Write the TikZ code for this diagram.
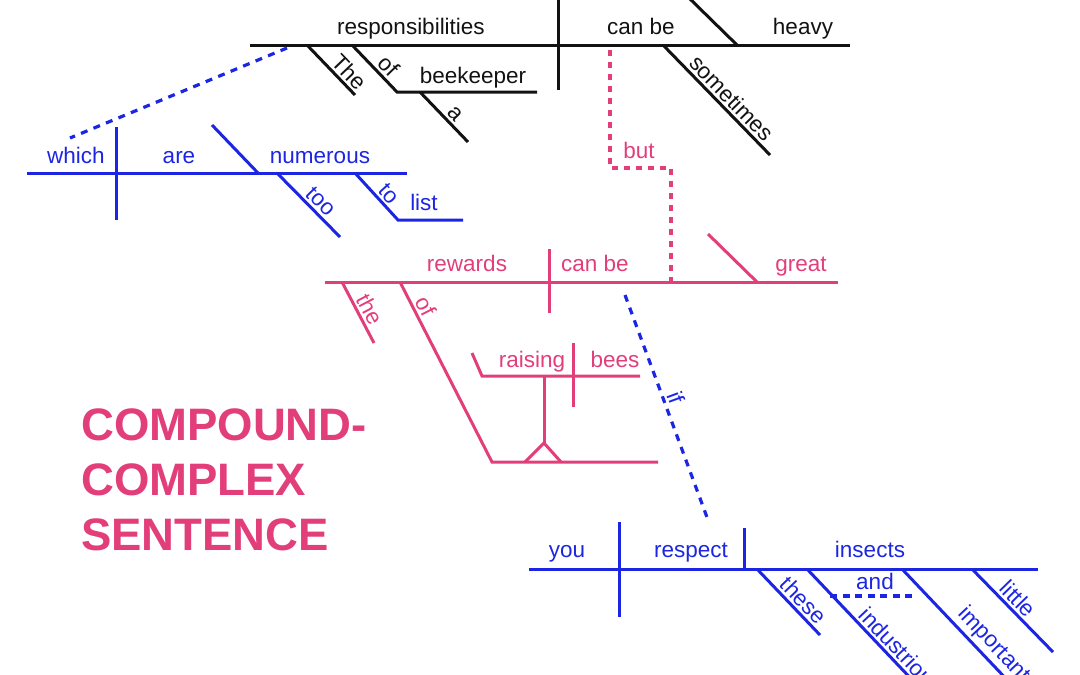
\documentclass[tikz,border=0pt]{standalone}
\usepackage{fontspec}
\setmainfont{Liberation Sans}
\definecolor{pk}{RGB}{226,62,122}
\definecolor{bl}{RGB}{28,38,226}
\definecolor{bk}{RGB}{18,18,18}
\begin{document}
\begin{tikzpicture}[x=1pt,y=-1pt,
  ln/.style={line width=3pt},
  blk/.style={ln,draw=bk},
  pnk/.style={ln,draw=pk},
  blu/.style={ln,draw=bl},
  dsh/.style={line width=3.2pt,dash pattern=on 7pt off 6.5pt},
  wd/.style={font=\fontsize{22.5}{27}\selectfont,inner sep=0pt,anchor=base},
  sl/.style={font=\fontsize{22.5}{27}\selectfont,inner sep=2.5pt,sloped,above},
  ttl/.style={font=\fontsize{45.5}{54}\selectfont\bfseries,text=pk,inner sep=0pt,anchor=base west}
]
\useasboundingbox (0,0) rectangle (1080,675);
\clip (0,0) rectangle (1080,675);

% ---------- black clause ----------
\coordinate (b0) at (250,45);  \coordinate (b1) at (850,45);
\coordinate (bd1) at (558,-5); \coordinate (bd2) at (558,90);
\coordinate (bc1) at (686,-5); \coordinate (bc2) at (737,45);
\coordinate (bs1) at (663,45); \coordinate (bs2) at (770,155);
\coordinate (bt1) at (307,45); \coordinate (bt2) at (355,95);
\coordinate (bo1) at (352,45); \coordinate (bo2) at (397,92); \coordinate (bo3) at (537,92);
\coordinate (ba1) at (420,92); \coordinate (ba2) at (468,142);

\draw[blk] (b0) -- (b1);
\draw[blk] (bd1) -- (bd2);
\draw[blk] (bc1) -- (bc2);
\draw[blk] (bs1) -- node[sl,text=bk,pos=.56] (tsometimes) {sometimes} (bs2);
\draw[blk] (bt1) -- node[sl,text=bk,pos=.70] (tThe) {The} (bt2);
\draw[blk] (bo1) -- node[sl,text=bk,pos=.62] (tofa) {of} (bo2) -- (bo3);
\draw[blk] (ba1) -- node[sl,text=bk,pos=.57] (ta) {a} (ba2);

\node[wd,text=bk] (tresp) at (411,34) {responsibilities};
\node[wd,text=bk] (tcanbe1) at (641,34) {can be};
\node[wd,text=bk] (theavy) at (803,34) {heavy};
\node[wd,text=bk] (tbeekeeper) at (473,83) {beekeeper};

% ---------- blue relative clause ----------
\coordinate (w0) at (27,173);   \coordinate (w1) at (407,173);
\coordinate (wd1) at (116,127); \coordinate (wd2) at (116,220);
\coordinate (wc1) at (212,125); \coordinate (wc2) at (258,173);
\coordinate (wt1) at (277,173); \coordinate (wt2) at (340,237);
\coordinate (wl1) at (355,173); \coordinate (wl2) at (398,220); \coordinate (wl3) at (463,220);
\coordinate (rel1) at (287,48); \coordinate (rel2) at (70,138);

\draw[blu] (w0) -- (w1);
\draw[blu] (wd1) -- (wd2);
\draw[blu] (wc1) -- (wc2);
\draw[blu] (wt1) -- node[sl,text=bl,pos=.57] (ttoo) {too} (wt2);
\draw[blu] (wl1) -- node[sl,text=bl,pos=.60] (tto) {to} (wl2) -- (wl3);
\draw[dsh,draw=bl] (rel1) -- (rel2);

\node[wd,text=bl] (twhich) at (76,163) {which};
\node[wd,text=bl] (tare) at (179,163) {are};
\node[wd,text=bl] (tnumerous) at (320,163) {numerous};
\node[wd,text=bl] (tlist) at (424,210) {list};

% ---------- pink clause ----------
\coordinate (p0) at (325,282);  \coordinate (p1) at (838,282);
\coordinate (pd1) at (549,249); \coordinate (pd2) at (549,313);
\coordinate (pc1) at (708,234); \coordinate (pc2) at (757,282);
\coordinate (pt1) at (342,282); \coordinate (pt2) at (374,343);
\coordinate (po1) at (400,282); \coordinate (po2) at (492,462); \coordinate (po3) at (658,462);
\coordinate (g0) at (472,353);  \coordinate (g1) at (482,376); \coordinate (g2) at (640,376);
\coordinate (gd1) at (573,343); \coordinate (gd2) at (573,407);
\coordinate (gs1) at (544,376); \coordinate (gs2) at (544,443);
\coordinate (gf1) at (525,462); \coordinate (gf2) at (561,462);
\coordinate (bu1) at (610,50);  \coordinate (bu2) at (610,168);
\coordinate (bu3) at (671,168); \coordinate (bu4) at (671,282);

\draw[pnk] (p0) -- (p1);
\draw[pnk] (pd1) -- (pd2);
\draw[pnk] (pc1) -- (pc2);
\draw[pnk] (pt1) -- node[sl,text=pk,pos=.54] (tthe) {the} (pt2);
\draw[pnk] (po1) -- node[sl,text=pk,pos=.165] (tofb) {of} (po2) -- (po3);
\draw[pnk] (g0) -- (g1) -- (g2);
\draw[pnk] (gd1) -- (gd2);
\draw[pnk] (gs1) -- (gs2);
\draw[pnk] (gf1) -- (gs2) -- (gf2);
\draw[dsh,draw=pk,dash pattern=on 6pt off 6pt] (bu1) -- (bu2) -- (bu3) -- (bu4);

\node[wd,text=pk] (tbut) at (639,158) {but};
\node[wd,text=pk] (trewards) at (467,271) {rewards};
\node[wd,text=pk] (tcanbe2) at (595,271) {can be};
\node[wd,text=pk] (tgreat) at (801,271) {great};
\node[wd,text=pk] (traising) at (532,367) {raising};
\node[wd,text=pk] (tbees) at (615,367) {bees};

% ---------- blue adverb clause ----------
\coordinate (if1) at (625,295); \coordinate (if2) at (708,520);
\coordinate (y0) at (529,569);  \coordinate (y1) at (1038,569);
\coordinate (yd1) at (619,522); \coordinate (yd2) at (619,617);
\coordinate (yo1) at (744,528); \coordinate (yo2) at (744,569);
\coordinate (yt1) at (757,569); \coordinate (yt2) at (820,635);
\coordinate (yi1) at (807,569); \coordinate (yi2) at (917,685);
\coordinate (ym1) at (902,569); \coordinate (ym2) at (1012,685);
\coordinate (yl1) at (972,569); \coordinate (yl2) at (1053,652);
\coordinate (ya1) at (830,596); \coordinate (ya2) at (915,596);

\draw[dsh,draw=bl] (if1) -- node[sl,text=bl,pos=.475] (tif) {if} (if2);
\draw[blu] (y0) -- (y1);
\draw[blu] (yd1) -- (yd2);
\draw[blu] (yo1) -- (yo2);
\draw[blu] (yt1) -- node[sl,text=bl,pos=.6] (tthese) {these} (yt2);
\draw[blu] (yi1) -- node[sl,text=bl,pos=.41,anchor=south west] (tindustrious) {industrious} (yi2);
\draw[blu] (ym1) -- node[sl,text=bl,pos=.42,anchor=south west] (timportant) {important} (ym2);
\draw[blu] (yl1) -- node[sl,text=bl,pos=.46] (tlittle) {little} (yl2);
\draw[dsh,draw=bl,dash pattern=on 7pt off 5.5pt] (ya1) -- (ya2);

\node[wd,text=bl] (tyou) at (567,557) {you};
\node[wd,text=bl] (trespect) at (691,557) {respect};
\node[wd,text=bl] (tinsects) at (870,557) {insects};
\node[wd,text=bl] (tand) at (875,589) {and};

% ---------- title ----------
\node[ttl] (ttl1) at (81,440) {COMPOUND-};
\node[ttl] (ttl2) at (81,495) {COMPLEX};
\node[ttl] (ttl3) at (81,550) {SENTENCE};
\end{tikzpicture}
\end{document}
